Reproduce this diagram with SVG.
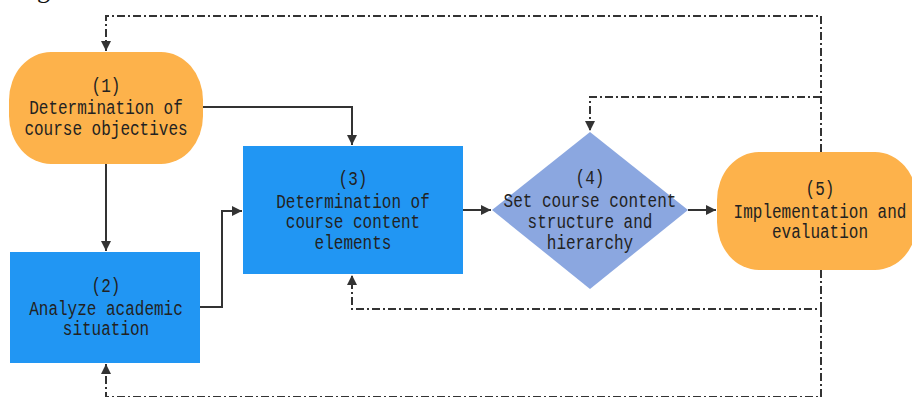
<svg xmlns="http://www.w3.org/2000/svg" width="912" height="397" viewBox="0 0 912 397">
<style>
.t{font-family:"Liberation Mono","DejaVu Sans Mono",monospace;font-size:20px;fill:#222;text-anchor:middle}
.orange{fill:#FDB24B}
.blue{fill:#2196F3}
.dia{fill:#8BA7E0}
.solid{fill:none;stroke:#333;stroke-width:2}
.dash{fill:none;stroke:#333;stroke-width:2;stroke-dasharray:8 3 2 3}
</style>
<defs>
<marker id="arr" viewBox="0 0 10 10" refX="10" refY="5" markerWidth="10" markerHeight="10" markerUnits="userSpaceOnUse" orient="auto">
<path d="M0,0 L10,5 L0,10 z" fill="#333"/>
</marker>
</defs>
<rect width="912" height="397" fill="#fff"/>
<text x="37" y="-2" style="font-family:'Liberation Serif',serif;font-size:26px;fill:#111">g</text>
<g id="connectors">
<path class="solid" d="M203,107 H352 V145" marker-end="url(#arr)"/>
<path class="solid" d="M106,164 V251" marker-end="url(#arr)"/>
<path class="solid" d="M200,307 H222 V211 H242" marker-end="url(#arr)"/>
<path class="solid" d="M463,210 H491" marker-end="url(#arr)"/>
<path class="solid" d="M688,210 H716" marker-end="url(#arr)"/>
<path class="dash" d="M821,152 V16 H106 V51" marker-end="url(#arr)"/>
<path class="dash" d="M821,97 H590 V131" marker-end="url(#arr)"/>
<path class="dash" d="M821,270 V309 H352 V275" marker-end="url(#arr)"/>
<path class="dash" d="M821,309 V397 H106 V364" marker-end="url(#arr)"/>
</g>
<g id="node1">
<rect class="orange" x="9" y="52" width="194" height="112" rx="42" ry="48"/>
<text class="t" transform="translate(106,92) scale(0.8,1)">(1)</text>
<text class="t" transform="translate(106,114) scale(0.8,1)">Determination of</text>
<text class="t" transform="translate(106,135) scale(0.8,1)">course objectives</text>
</g>
<g id="node2">
<rect class="blue" x="10" y="252" width="190" height="111"/>
<text class="t" transform="translate(106,292) scale(0.8,1)">(2)</text>
<text class="t" transform="translate(106,315) scale(0.8,1)">Analyze academic</text>
<text class="t" transform="translate(106,335) scale(0.8,1)">situation</text>
</g>
<g id="node3">
<rect class="blue" x="243" y="146" width="220" height="128"/>
<text class="t" transform="translate(353,185) scale(0.8,1)">(3)</text>
<text class="t" transform="translate(353,208) scale(0.8,1)">Determination of</text>
<text class="t" transform="translate(353,228) scale(0.8,1)">course content</text>
<text class="t" transform="translate(353,249) scale(0.8,1)">elements</text>
</g>
<g id="node4">
<polygon class="dia" points="590,132 688,210 590,289 492,210"/>
<text class="t" transform="translate(590,184) scale(0.8,1)">(4)</text>
<text class="t" transform="translate(590,207) scale(0.8,1)">Set course content</text>
<text class="t" transform="translate(590,228) scale(0.8,1)">structure and</text>
<text class="t" transform="translate(590,249) scale(0.8,1)">hierarchy</text>
</g>
<g id="node5">
<rect class="orange" x="717" y="152" width="200" height="118" rx="42" ry="48"/>
<text class="t" transform="translate(820,195) scale(0.8,1)">(5)</text>
<text class="t" transform="translate(820,218) scale(0.8,1)">Implementation and</text>
<text class="t" transform="translate(820,238) scale(0.8,1)">evaluation</text>
</g>
</svg>
